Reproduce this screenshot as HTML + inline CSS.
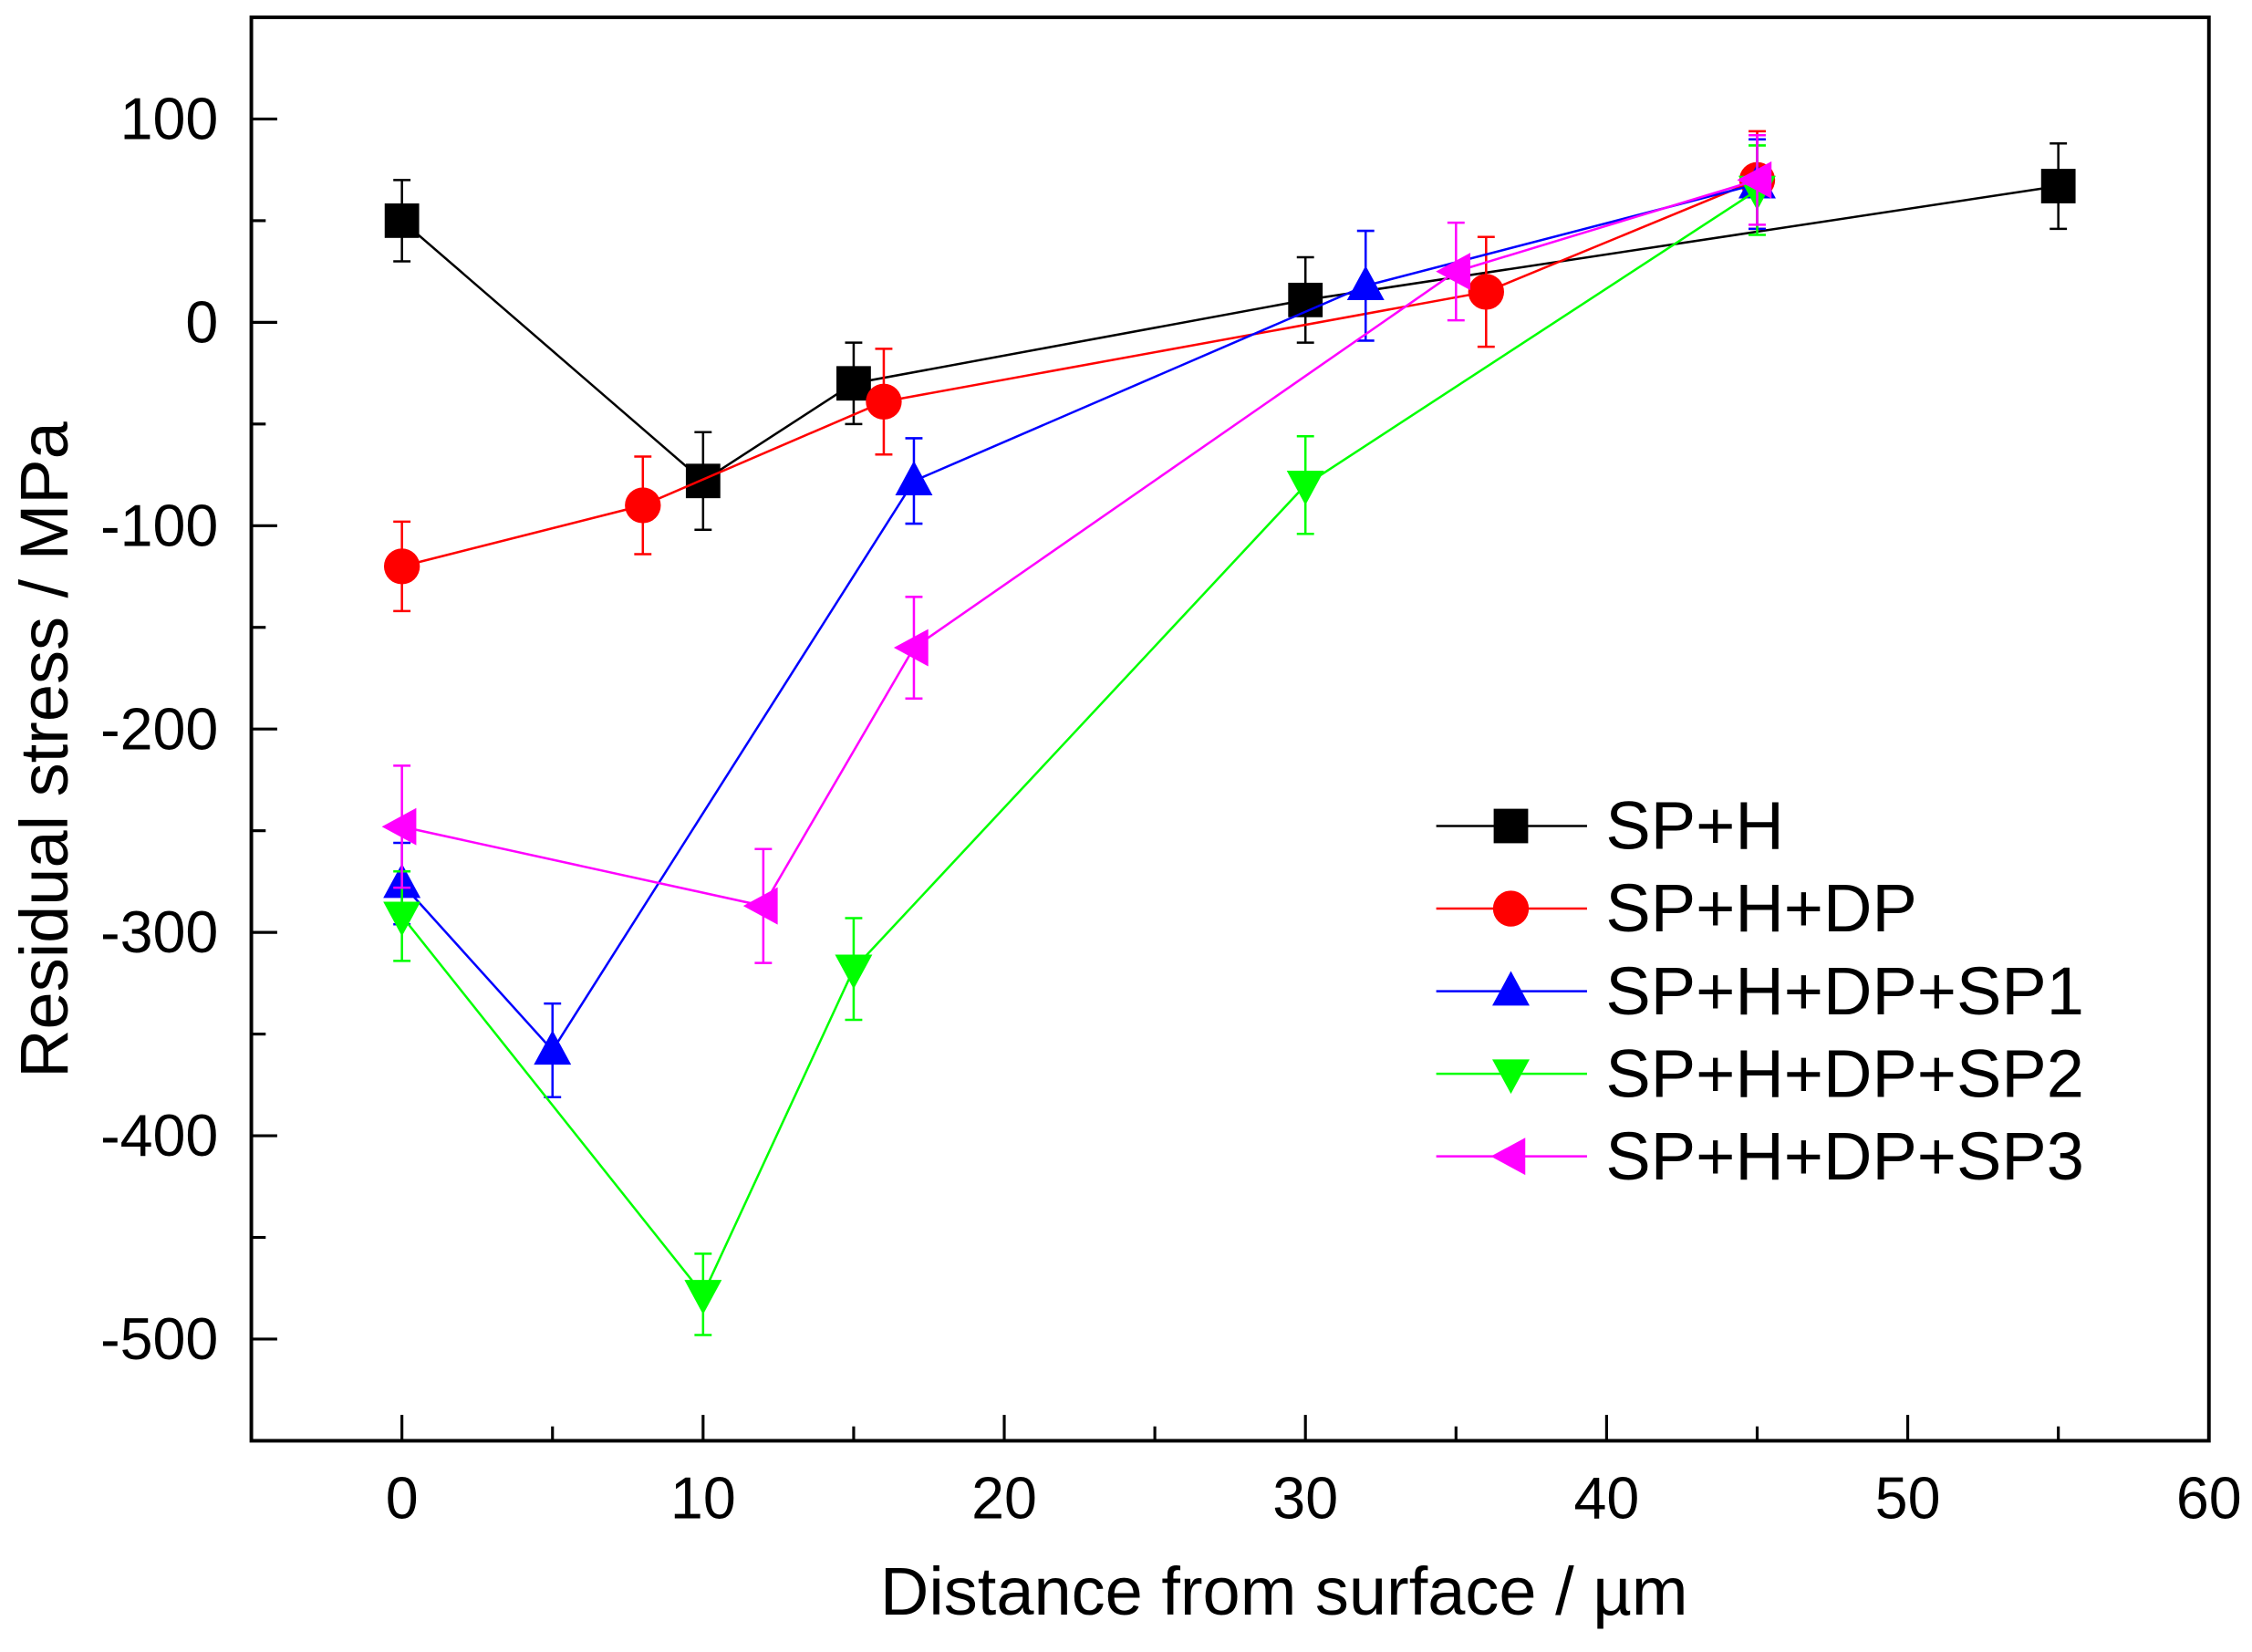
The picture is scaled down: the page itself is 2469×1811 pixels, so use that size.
<!DOCTYPE html>
<html><head><meta charset="utf-8"><style>
html,body{margin:0;padding:0;background:#fff;}
svg{display:block;font-family:"Liberation Sans",Arial,sans-serif;}
</style></head><body>
<svg id="chart" width="2469" height="1811" viewBox="0 0 1568 1150" xmlns="http://www.w3.org/2000/svg">
<g id="axes"></g><g id="series"></g><g id="legend"></g>
</svg>
<script>
const seriesNames=["SP+H","SP+H+DP","SP+H+DP+SP1","SP+H+DP+SP2","SP+H+DP+SP3"];
const seriesColors=["#000000","#ff0000","#0000ff","#00ff00","#ff00ff"];
const seriesMarkers=["square","circle","up","down","left"];
const xSPH=[0,10,15,30,55];
const ySPH=[50,-78,-30,11,67];
const eSPH=[20,24,20,21,21];
const xDP=[0,8,16,36,45];
const yDP=[-120,-90,-39,15,70];
const eDP=[22,24,26,27,24];
const xSP1=[0,5,17,32,45];
const ySP1=[-276,-358,-78,18,68];
const eSP1=[20,23,21,27,22];
const xSP2=[0,10,15,30,45];
const ySP2=[-292,-478,-318,-80,65];
const eSP2=[22,20,25,24,22];
const xSP3=[0,12,17,35,45];
const ySP3=[-248,-287,-160,25,70];
const eSP3=[30,28,25,24,22];
const xTicks=[0,10,20,30,40,50,60];
const yTicks=[100,0,-100,-200,-300,-400,-500];

const L=175,R=1538,T=12,B=1003,X0=-5,X1=60,Y0=-550,Y1=150;
const sx=v=>L+(v-X0)/(X1-X0)*(R-L);
const sy=v=>B-(v-Y0)/(Y1-Y0)*(B-T);
const NS="http://www.w3.org/2000/svg";
function mk(tag,attrs,parent){const e=document.createElementNS(NS,tag);for(const k in attrs)e.setAttribute(k,attrs[k]);parent.appendChild(e);return e;}
const axes=document.getElementById('axes');
const frame=mk('rect',{x:L,y:T,width:R-L,height:B-T,fill:'none',stroke:'#000','stroke-width':2.5},axes);


for(let v=-5;v<=60;v+=5){const x=sx(v);const major=v%10===0;
 const t=mk('line',{x1:x,x2:x,y1:B,y2:B-(major?18:10),stroke:'#000','stroke-width':2},axes);
 
 }
xTicks.forEach(v=>{const t=mk('text',{x:sx(v),y:1057,'font-size':41,'text-anchor':'middle'},axes);t.textContent=v;
 
 });
for(let v=-550;v<=150;v+=50){const y=sy(v);const major=v%100===0;
 const t=mk('line',{x1:L,x2:L+(major?18:10),y1:y,y2:y,stroke:'#000','stroke-width':2},axes);
 
 }
yTicks.forEach(v=>{const t=mk('text',{x:152,y:sy(v)+14,'font-size':41,'text-anchor':'end'},axes);t.textContent=v;
 
 });
const xt=mk('text',{x:894,y:1124,'font-size':47,'text-anchor':'middle'},axes);xt.textContent='Distance from surface / µm';


const yt=mk('text',{x:0,y:0,'font-size':47,'text-anchor':'middle',transform:'translate(47,522) rotate(-90)'},axes);yt.textContent='Residual stress / MPa';



function marker(type,cx,cy,color,parent){
 let e;
 if(type==='square')e=mk('rect',{x:cx-12,y:cy-12,width:24,height:24,fill:color},parent);
 else if(type==='circle')e=mk('circle',{cx:cx,cy:cy,r:12.5,fill:color},parent);
 else if(type==='up')e=mk('polygon',{points:`${cx},${cy-14} ${cx-13},${cy+10} ${cx+13},${cy+10}`,fill:color},parent);
 else if(type==='down')e=mk('polygon',{points:`${cx},${cy+14} ${cx-13},${cy-10} ${cx+13},${cy-10}`,fill:color},parent);
 else e=mk('polygon',{points:`${cx-14},${cy} ${cx+10},${cy-13} ${cx+10},${cy+13}`,fill:color},parent);
 return e;}
const allX=[xSPH,xDP,xSP1,xSP2,xSP3],allY=[ySPH,yDP,ySP1,ySP2,ySP3],allE=[eSPH,eDP,eSP1,eSP2,eSP3];
const sg=document.getElementById('series');
const keys=['sp-h','sp-h-dp','sp-h-dp-sp1','sp-h-dp-sp2','sp-h-dp-sp3'];
allX.forEach((xs,i)=>{const g=mk('g',{},sg);
 
 
 const c=seriesColors[i];
 const pl=mk('polyline',{points:xs.map((x,j)=>sx(x)+','+sy(allY[i][j])).join(' '),fill:'none',stroke:c,'stroke-width':1.6},g);
 
 
 xs.forEach((x,j)=>{const px=sx(x),y=allY[i][j],e=allE[i][j];
  const eb=mk('path',{d:`M${px},${sy(y+e)}V${sy(y-e)}M${px-6},${sy(y+e)}H${px+6}M${px-6},${sy(y-e)}H${px+6}`,stroke:c,'stroke-width':1.6,fill:'none'},g);
  
  
  const m=marker(seriesMarkers[i],px,sy(y),c,g);
  
  });
});
const lg=document.getElementById('legend');


seriesNames.forEach((n,i)=>{const y=575+i*57.5;const g=mk('g',{},lg);
 
 
 mk('line',{x1:1000,x2:1105,y1:y,y2:y,stroke:seriesColors[i],'stroke-width':1.6},g);
 marker(seriesMarkers[i],1052,y,seriesColors[i],g);
 const t=mk('text',{x:1118,y:y+16,'font-size':47},g);t.textContent=n;});
</script>
</body></html>
